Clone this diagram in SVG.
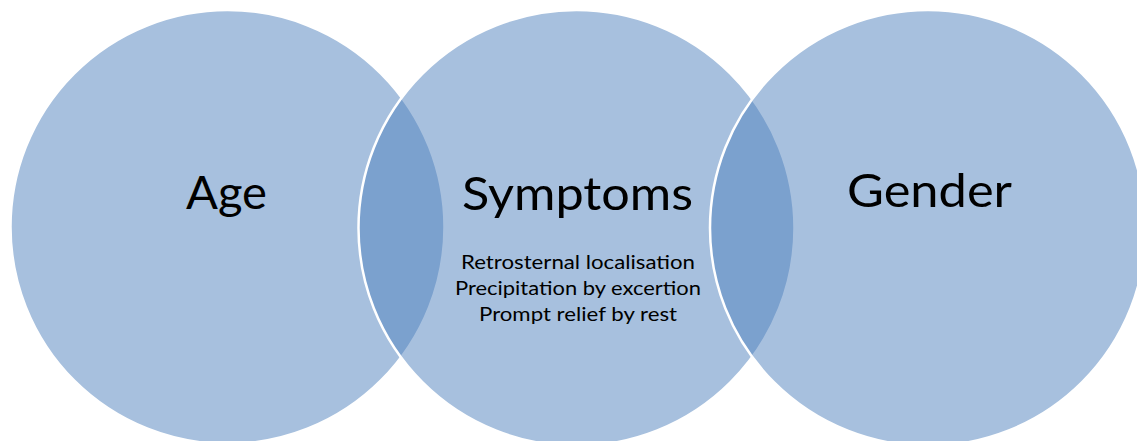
<svg xmlns="http://www.w3.org/2000/svg" width="1137" height="441" viewBox="0 0 1137 441">
  <style>
    .c { fill: #4F81BD; fill-opacity: 0.5; stroke: #FFFFFF; stroke-width: 2.5; }
    .big { font-family: "Lato", "Open Sans", sans-serif; font-size: 47px; fill: #000000; text-anchor: middle; }
    .small { font-family: "Lato", "Open Sans", sans-serif; font-size: 19.5px; fill: #000000; text-anchor: middle; }
  </style>
  <rect width="1137" height="441" fill="#FFFFFF"/>
  <g id="node-age">
    <circle class="c" cx="227.5" cy="227" r="217"/>
    <text class="big" x="226.5" y="209" textLength="81" lengthAdjust="spacingAndGlyphs">Age</text>
  </g>
  <g id="node-symptoms">
    <circle class="c" cx="576.5" cy="228" r="218"/>
    <text class="big" x="577.5" y="210" textLength="231" lengthAdjust="spacingAndGlyphs">Symptoms</text>
    <text class="small" x="578" y="269" textLength="234" lengthAdjust="spacingAndGlyphs">Retrosternal localisation</text>
    <text class="small" x="578" y="295" textLength="246" lengthAdjust="spacingAndGlyphs">Precipitation by excertion</text>
    <text class="small" x="578" y="321" textLength="198" lengthAdjust="spacingAndGlyphs">Prompt relief by rest</text>
  </g>
  <g id="node-gender">
    <circle class="c" cx="928" cy="228" r="218"/>
    <text class="big" x="929.5" y="207" textLength="165" lengthAdjust="spacingAndGlyphs">Gender</text>
  </g>
  <g id="connectors"></g>
</svg>
